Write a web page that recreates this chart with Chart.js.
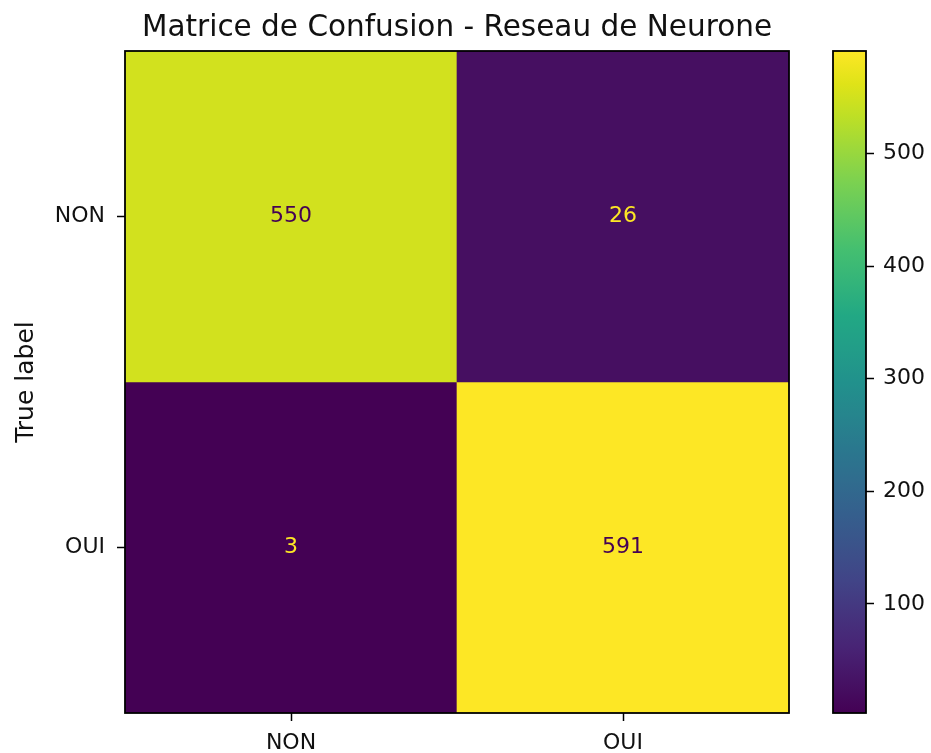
<!DOCTYPE html>
<html>
<head>
<meta charset="utf-8">
<script src="https://cdn.jsdelivr.net/npm/chart.js@4"></script>
<style>
  body { margin: 0; background: #fff; }
  #wrap { position: relative; width: 931px; height: 753px; overflow: hidden; }
  canvas { position: absolute; top: 0; }
</style>
</head>
<body>
<div id="wrap">
  <canvas id="matrix" width="800" height="753" style="left:0"></canvas>
  <canvas id="cbar" width="131" height="753" style="left:800px"></canvas>
</div>
<script>
// confusion matrix values (rows = true label, columns = predicted label)
const predLabels = ['NON', 'OUI'];
const trueLabels = ['NON', 'OUI'];
const rowNON = [550, 26];
const rowOUI = [3, 591];
const cbarTicks = [100, 200, 300, 400, 500];

const rows = [rowNON, rowOUI];
const vmin = Math.min(...rowNON, ...rowOUI);
const vmax = Math.max(...rowNON, ...rowOUI);

Chart.defaults.font.family = '"DejaVu Sans", sans-serif';
Chart.defaults.font.size = 22;
Chart.defaults.color = '#111';

// viridis colour map, linear between stops
const viridisStops = [
  [0.0, '#440154'], [0.1, '#482475'], [0.2, '#414487'], [0.3, '#355f8d'],
  [0.4, '#2a788e'], [0.5, '#21918c'], [0.6, '#22a884'], [0.7, '#44bf70'],
  [0.8, '#7ad151'], [0.9, '#bddf26'], [0.95, '#dfe318'], [1.0, '#fde725']
];
function hexToRgb(h) {
  return [parseInt(h.substr(1, 2), 16), parseInt(h.substr(3, 2), 16), parseInt(h.substr(5, 2), 16)];
}
function viridis(t) {
  t = Math.max(0, Math.min(1, t));
  for (let i = 1; i < viridisStops.length; i++) {
    const [t1, c1] = viridisStops[i];
    if (t <= t1) {
      const [t0, c0] = viridisStops[i - 1];
      const f = (t - t0) / (t1 - t0);
      const a = hexToRgb(c0), b = hexToRgb(c1);
      const c = a.map((v, k) => Math.round(v + (b[k] - v) * f));
      return `rgb(${c[0]}, ${c[1]}, ${c[2]})`;
    }
  }
  return viridisStops[viridisStops.length - 1][1];
}

// black frame around the chart area
const framePlugin = {
  id: 'frame',
  afterDraw(chart) {
    const { ctx, chartArea: a } = chart;
    ctx.save();
    ctx.strokeStyle = '#000';
    ctx.lineWidth = 1.8;
    ctx.strokeRect(a.left, a.top, a.right - a.left, a.bottom - a.top);
    ctx.restore();
  }
};

// numbers written in the cells
const cellTextPlugin = {
  id: 'cellText',
  afterDatasetsDraw(chart) {
    const ctx = chart.ctx;
    ctx.save();
    ctx.font = '22px "DejaVu Sans", sans-serif';
    ctx.textAlign = 'center';
    ctx.textBaseline = 'middle';
    chart.data.datasets.forEach((ds, i) => {
      chart.getDatasetMeta(i).data.forEach((bar, j) => {
        const v = ds.counts[j];
        ctx.fillStyle = v < (vmin + vmax) / 2 ? viridis(1) : viridis(0);
        ctx.fillText(String(v), bar.x, (bar.y + bar.base) / 2);
      });
    });
    ctx.restore();
  }
};

const datasets = rows.map((row, r) => ({
  label: trueLabels[r],
  data: predLabels.map(() => [r, r + 1]),
  counts: row,
  backgroundColor: row.map(v => viridis((v - vmin) / (vmax - vmin))),
  borderWidth: 0,
  barPercentage: 1,
  categoryPercentage: 1,
  grouped: false
}));

new Chart(document.getElementById('matrix').getContext('2d'), {
  type: 'bar',
  data: { labels: predLabels, datasets: datasets },
  options: {
    responsive: false,
    animation: false,
    devicePixelRatio: 1,
    layout: { padding: { left: 0, right: 11, top: 0, bottom: 0 } },
    plugins: {
      legend: { display: false },
      tooltip: { enabled: false },
      title: {
        display: true,
        text: 'Matrice de Confusion - Reseau de Neurone',
        fullSize: false,
        color: '#111',
        font: { size: 29.5, weight: 'normal' },
        padding: { top: 10.5, bottom: 5.1 }
      }
    },
    scales: {
      x: {
        type: 'category',
        grid: { offset: false, drawOnChartArea: false, tickLength: 8, tickColor: '#000', tickWidth: 1.5 },
        border: { display: false },
        ticks: { padding: 9, color: '#111' },
        afterFit: s => { s.height = 40; }
      },
      y: {
        type: 'linear',
        min: 0,
        max: 2,
        reverse: true,
        afterBuildTicks: s => { s.ticks = trueLabels.map((_, i) => ({ value: i + 0.5 })); },
        grid: { drawOnChartArea: false, tickLength: 8, tickColor: '#000', tickWidth: 1.5 },
        border: { display: false },
        ticks: { padding: 12, color: '#111', callback: v => trueLabels[Math.floor(v)] },
        title: { display: true, text: 'True label', color: '#111', font: { size: 25 }, padding: { top: 11, bottom: 0 } },
        afterFit: s => { s.width = 125; }
      }
    }
  },
  plugins: [cellTextPlugin, framePlugin]
});

// colour bar
new Chart(document.getElementById('cbar').getContext('2d'), {
  type: 'bar',
  data: {
    labels: [''],
    datasets: [{
      data: [[vmin, vmax]],
      borderWidth: 0,
      barPercentage: 1,
      categoryPercentage: 1,
      backgroundColor: (c) => {
        const a = c.chart.chartArea;
        if (!a) return viridis(0.5);
        const g = c.chart.ctx.createLinearGradient(0, a.bottom, 0, a.top);
        for (let i = 0; i <= 20; i++) g.addColorStop(i / 20, viridis(i / 20));
        return g;
      }
    }]
  },
  options: {
    responsive: false,
    animation: false,
    devicePixelRatio: 1,
    layout: { padding: { left: 33, right: 0, top: 51, bottom: 40 } },
    plugins: { legend: { display: false }, tooltip: { enabled: false } },
    scales: {
      x: { display: false },
      y: {
        position: 'right',
        min: vmin,
        max: vmax,
        afterBuildTicks: s => { s.ticks = cbarTicks.map(v => ({ value: v })); },
        grid: { drawOnChartArea: false, tickLength: 8, tickColor: '#000', tickWidth: 1.5 },
        border: { display: false },
        ticks: { padding: 9, color: '#111' },
        afterFit: s => { s.width = 65; }
      }
    }
  },
  plugins: [framePlugin]
});
</script>
</body>
</html>
